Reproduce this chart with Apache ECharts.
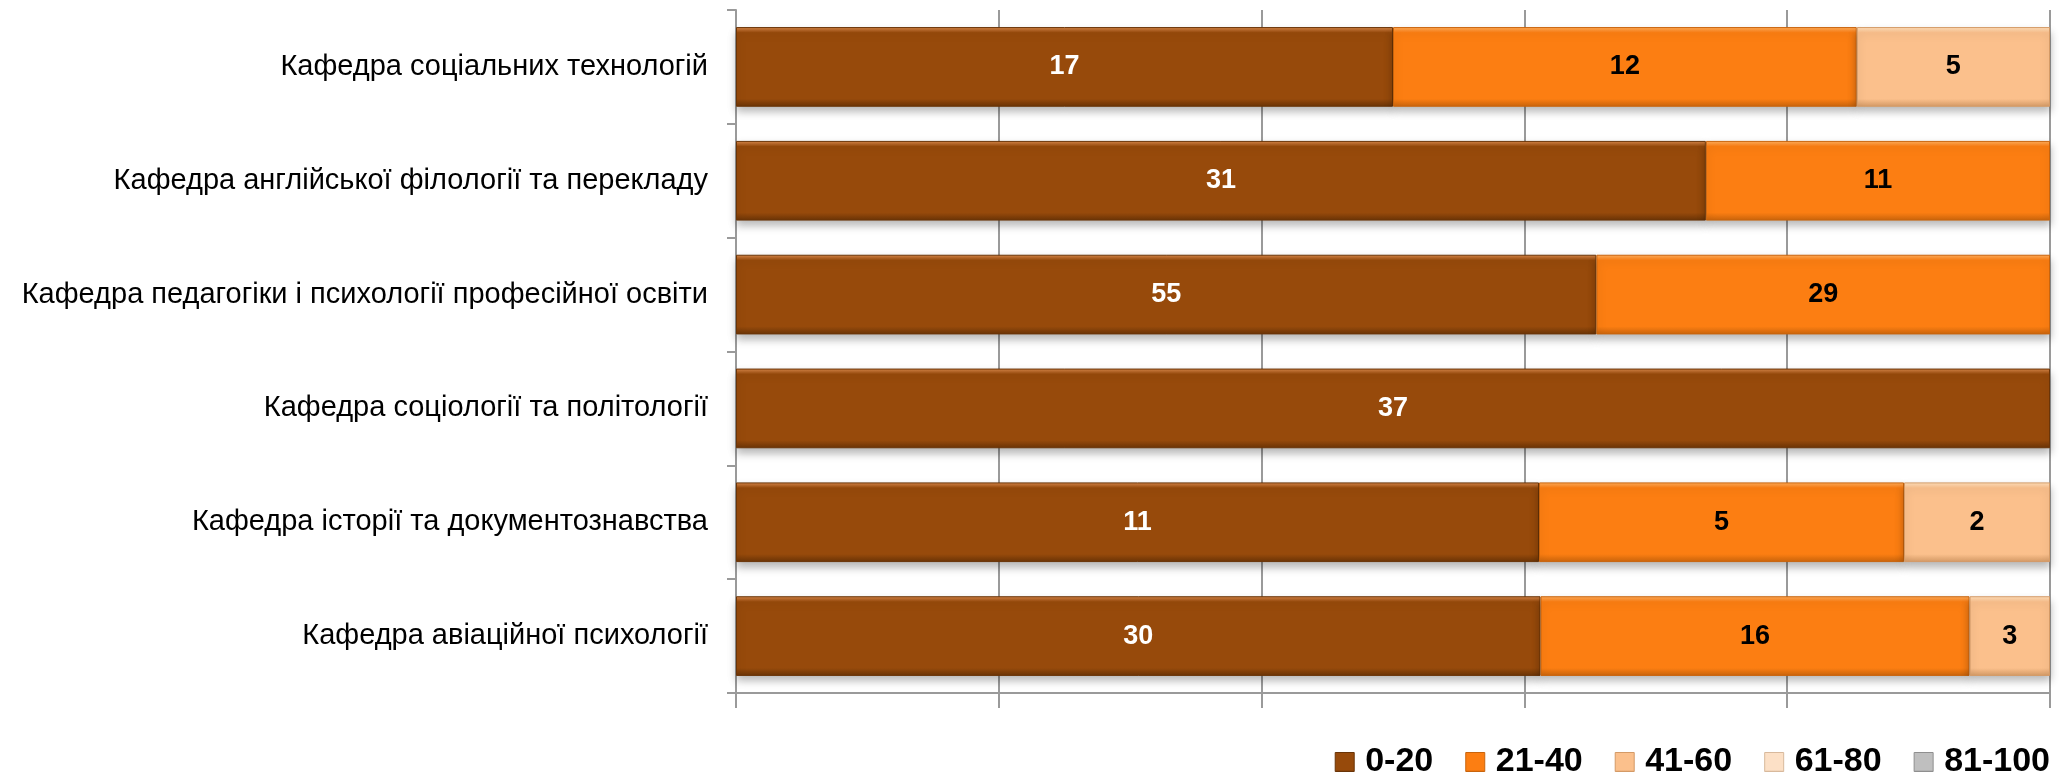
<!DOCTYPE html>
<html>
<head>
<meta charset="utf-8">
<script src="https://cdn.jsdelivr.net/npm/echarts@6/dist/echarts.min.js"></script>
<style>html,body{margin:0;padding:0;background:#fff}#c{width:2059px;height:781px}</style>
</head>
<body>
<div id="c"></div>
<script>
const categories = [
  'Кафедра соціальних технологій',
  'Кафедра англійської філології та перекладу',
  'Кафедра педагогіки і психології професійної освіти',
  'Кафедра соціології та політології',
  'Кафедра історії та документознавства',
  'Кафедра авіаційної психології'
];
const seriesNames = ['0-20', '21-40', '41-60', '61-80', '81-100'];
const s0_20   = [17, 31, 55, 37, 11, 30];
const s21_40  = [12, 11, 29, 0, 5, 16];
const s41_60  = [5, 0, 0, 0, 2, 3];
const s61_80  = [0, 0, 0, 0, 0, 0];
const s81_100 = [0, 0, 0, 0, 0, 0];

const counts = [s0_20, s21_40, s41_60, s61_80, s81_100];
const baseColors = ['#974A0B', '#FC7E12', '#FBC08C', '#FCE0C6', '#BFBFBF'];
const lightColors = ['#D9884A', '#FFAE5E', '#FFE0BC', '#FFF3E6', '#E6E6E6'];
const darkColors = ['#6A3407', '#C9640C', '#D49A66', '#D8B99C', '#8F8F8F'];
const labelColors = ['#ffffff', '#000000', '#000000', '#000000', '#000000'];

const totals = categories.map((_, i) => counts.reduce((s, arr) => s + arr[i], 0));

function grad(i) {
  return new echarts.graphic.LinearGradient(0, 0, 0, 1, [
    { offset: 0, color: lightColors[i] },
    { offset: 0.07, color: baseColors[i] },
    { offset: 0.9, color: baseColors[i] },
    { offset: 1, color: darkColors[i] }
  ]);
}

const series = seriesNames.map((name, si) => ({
  name: name,
  type: 'bar',
  stack: 'total',
  barCategoryGap: '30%',
  data: counts[si].map((v, i) => v > 0 ? { value: v / totals[i] * 100, raw: v } : '-'),
  itemStyle: {
    color: grad(si),
    borderColor: darkColors[si],
    borderWidth: 1,
    shadowColor: 'rgba(0,0,0,0.28)',
    shadowBlur: 8,
    shadowOffsetY: 5
  },
  label: {
    show: true,
    position: 'inside',
    color: labelColors[si],
    fontFamily: 'Liberation Sans',
    fontWeight: 'bold',
    fontSize: 27,
    formatter: p => (p.data && p.data.raw) ? String(p.data.raw) : ''
  },
  emphasis: { disabled: true }
}));

const chart = echarts.init(document.getElementById('c'), null, { renderer: 'canvas' });
chart.setOption({
  animation: false,
  backgroundColor: '#ffffff',
  grid: { left: 736, right: 9, top: 10, bottom: 88, containLabel: false },
  legend: {
    data: seriesNames,
    right: 4,
    bottom: -3,
    icon: 'rect',
    itemWidth: 19,
    itemHeight: 19,
    itemGap: 32,
    textStyle: { fontFamily: 'Liberation Sans', fontWeight: 'bold', fontSize: 34, color: '#000', padding: [0, 0, 0, 6] },
    itemStyle: { borderWidth: 1 }
  },
  xAxis: {
    type: 'value',
    min: 0,
    max: 100,
    interval: 20,
    axisLine: { show: true, lineStyle: { color: '#9A9A9A', width: 2 } },
    axisTick: { show: true, length: 15, lineStyle: { color: '#9A9A9A', width: 2 } },
    axisLabel: { show: false },
    splitLine: { show: true, lineStyle: { color: '#9A9A9A', width: 2 } }
  },
  yAxis: {
    type: 'category',
    inverse: true,
    data: categories,
    axisLine: { show: true, lineStyle: { color: '#9A9A9A', width: 2 } },
    axisTick: { show: true, length: 9, lineStyle: { color: '#9A9A9A', width: 2 } },
    axisLabel: { color: '#000', fontFamily: 'Liberation Sans', fontSize: 29, margin: 28 }
  },
  series: series
});
</script>
</body>
</html>
